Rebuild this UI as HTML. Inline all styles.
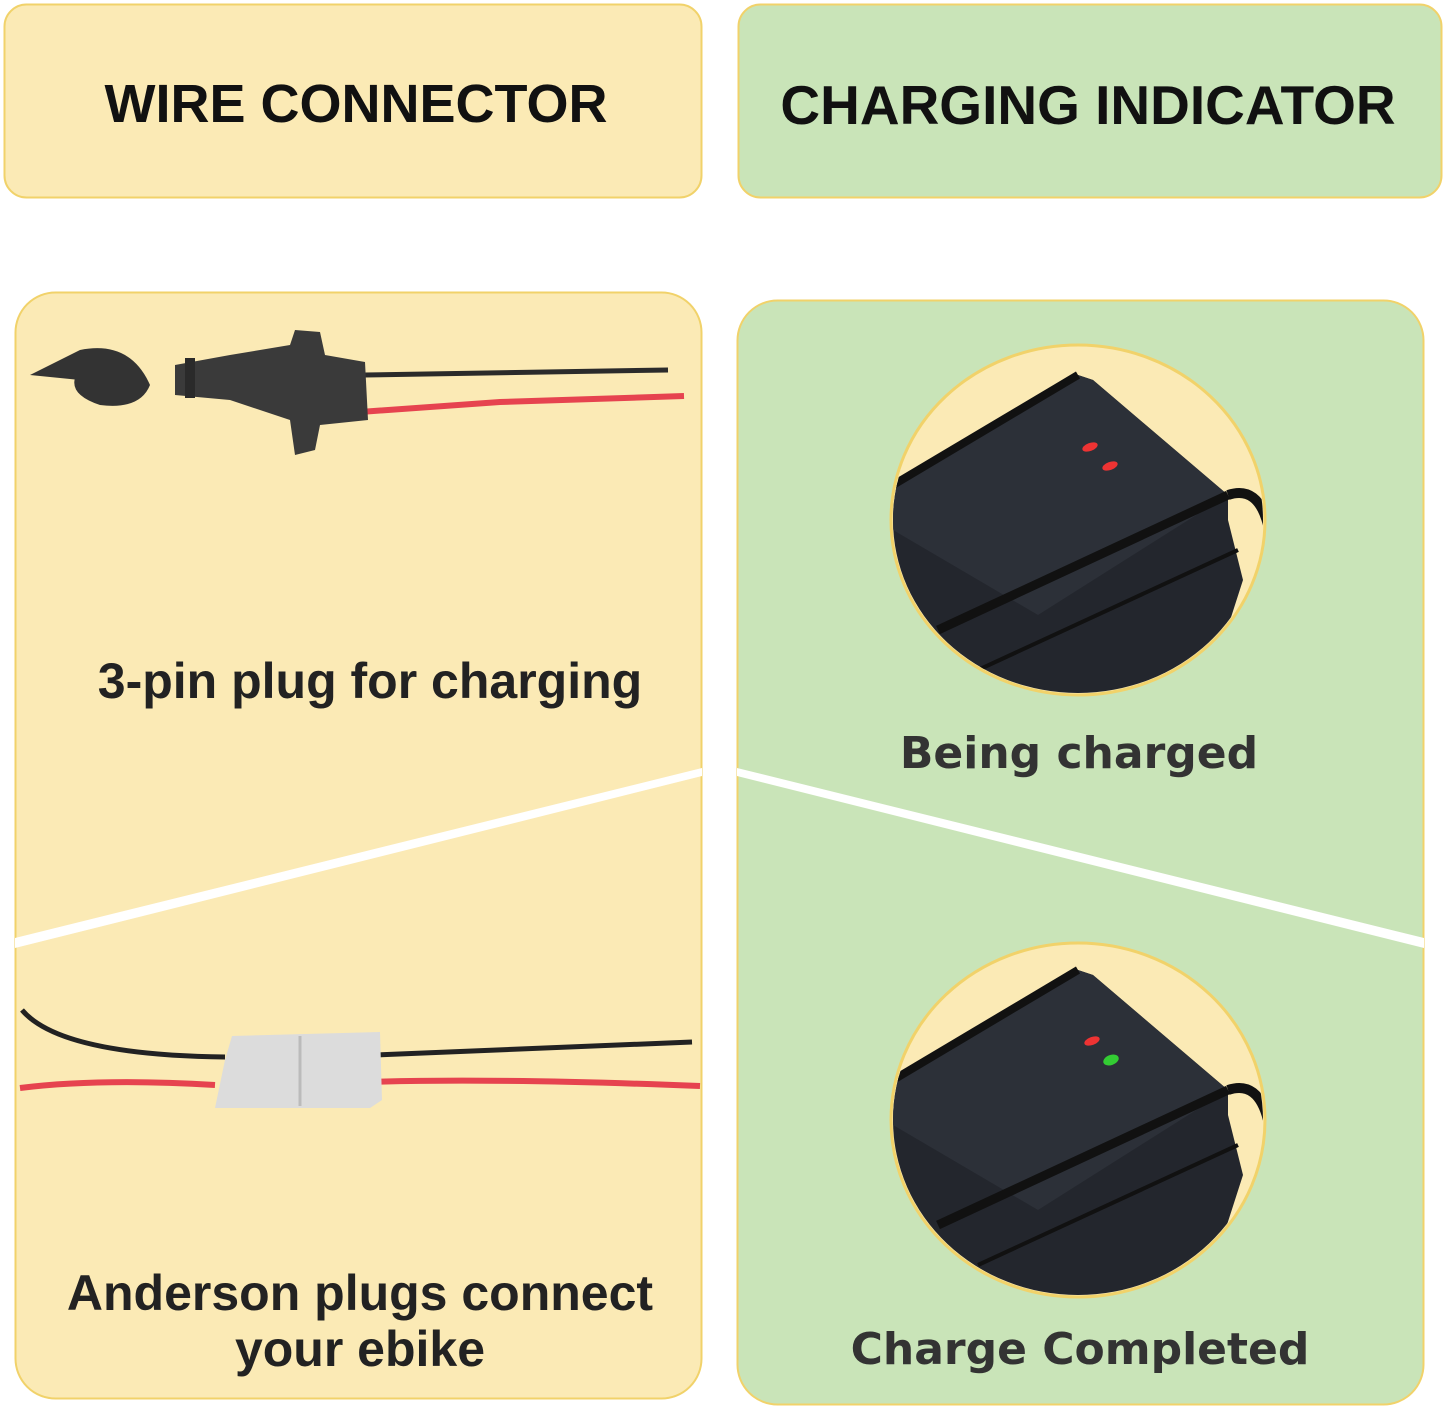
<!DOCTYPE html>
<html><head><meta charset="utf-8"><style>
html,body{margin:0;padding:0;background:#fff;width:1445px;height:1410px;overflow:hidden}
svg{display:block}
</style></head><body>
<svg width="1445" height="1410" viewBox="0 0 1445 1410" xmlns="http://www.w3.org/2000/svg">
<defs>
<clipPath id="c1"><ellipse cx="1078" cy="520" rx="185" ry="173"/></clipPath>
<clipPath id="c2"><ellipse cx="1078" cy="1120" rx="185" ry="175"/></clipPath>
<g id="chg">
 <rect x="-200" y="-200" width="400" height="400" fill="#fbeab5"/>
 <polygon points="-185,-35 0,-145 15,-140 150,-25 150,0 165,60 120,200 -140,200 -185,60" fill="#23262d"/>
 <polygon points="-185,-35 0,-145 15,-140 150,-25 -40,95 -185,10" fill="#2c3038"/>
 <line x1="-185" y1="-35" x2="0" y2="-145" stroke="#111" stroke-width="8"/>
 <line x1="-140" y1="110" x2="150" y2="-25" stroke="#111" stroke-width="9"/>
 <line x1="-100" y1="150" x2="160" y2="30" stroke="#111" stroke-width="4"/>
 <path d="M150,-25 q30,-10 40,30" stroke="#111" stroke-width="10" fill="none"/>
</g>
</defs>
<rect x="4.5" y="4.5" width="697" height="193" rx="22" fill="#fbeab5" stroke="#f1d26a" stroke-width="2"/>
<rect x="738.5" y="4.5" width="703" height="193" rx="22" fill="#c9e4b8" stroke="#f1d26a" stroke-width="2"/>
<text x="356" y="122" text-anchor="middle" font-family="Liberation Sans, sans-serif" font-weight="bold" font-size="54" fill="#111">WIRE CONNECTOR</text>
<text x="1088" y="124" text-anchor="middle" font-family="Liberation Sans, sans-serif" font-weight="bold" font-size="55" fill="#111">CHARGING INDICATOR</text>
<rect x="15.5" y="292.5" width="686" height="1106" rx="40" fill="#fbeab5" stroke="#f1d26a" stroke-width="2"/>
<rect x="737.5" y="300.5" width="686" height="1104" rx="40" fill="#c9e4b8" stroke="#f1d26a" stroke-width="2"/>
<polygon points="15,938 702,768 702,776 15,948" fill="#fff"/>
<polygon points="737,768 1424,938 1424,948 737,776" fill="#fff"/>
<line x1="365" y1="375" x2="668" y2="370" stroke="#2b2b2b" stroke-width="5"/>
<path d="M360,412 L500,402 L684,396" stroke="#e6434f" stroke-width="6" fill="none"/>
<path d="M30,375 L80,350 Q130,340 150,385 Q140,410 100,405 Q70,395 75,378 Q100,360 130,385 Z" fill="#333"/>
<polygon points="175,365 230,355 290,345 295,330 320,332 325,355 365,362 368,420 320,425 315,450 295,455 290,420 230,400 175,395" fill="#3a3a3a"/>
<rect x="185" y="358" width="10" height="40" fill="#2a2a2a"/>
<path d="M22,1010 Q60,1055 225,1057" stroke="#222" stroke-width="5" fill="none"/>
<path d="M20,1088 Q100,1078 215,1085" stroke="#e6434f" stroke-width="6" fill="none"/>
<path d="M375,1055 Q500,1050 692,1042" stroke="#222" stroke-width="5" fill="none"/>
<path d="M365,1082 Q500,1078 700,1086" stroke="#e6434f" stroke-width="6" fill="none"/>
<polygon points="232,1036 380,1032 382,1100 370,1108 215,1108 225,1060" fill="#dcdcdc"/>
<line x1="300" y1="1036" x2="300" y2="1106" stroke="#bbb" stroke-width="3"/>
<ellipse cx="1078" cy="520" rx="187" ry="175" fill="#fbeab5" stroke="#f1d26a" stroke-width="3"/>
<g clip-path="url(#c1)"><use href="#chg" transform="translate(1078,520)"/></g>
<ellipse cx="1090" cy="447" rx="8" ry="4" fill="#e33" transform="rotate(-20 1090 447)"/>
<ellipse cx="1110" cy="466" rx="8" ry="4" fill="#e33" transform="rotate(-20 1110 466)"/>
<ellipse cx="1078" cy="1120" rx="187" ry="177" fill="#fbeab5" stroke="#f1d26a" stroke-width="3"/>
<g clip-path="url(#c2)"><use href="#chg" transform="translate(1078,1115)"/></g>
<ellipse cx="1092" cy="1041" rx="8" ry="4" fill="#e33" transform="rotate(-20 1092 1041)"/>
<ellipse cx="1111" cy="1060" rx="8" ry="5" fill="#3c3" transform="rotate(-20 1111 1060)"/>
<text x="370" y="698" text-anchor="middle" font-family="Liberation Sans, sans-serif" font-weight="bold" font-size="50" fill="#222">3-pin plug for charging</text>
<text x="1079" y="768" text-anchor="middle" font-family="DejaVu Sans, sans-serif" font-weight="bold" font-size="44" fill="#333">Being charged</text>
<text x="360" y="1310" text-anchor="middle" font-family="Liberation Sans, sans-serif" font-weight="bold" font-size="50" fill="#222">Anderson plugs connect</text>
<text x="360" y="1366" text-anchor="middle" font-family="Liberation Sans, sans-serif" font-weight="bold" font-size="50" fill="#222">your ebike</text>
<text x="1080" y="1364" text-anchor="middle" font-family="DejaVu Sans, sans-serif" font-weight="bold" font-size="44" fill="#333">Charge Completed</text>
</svg>
</body></html>
